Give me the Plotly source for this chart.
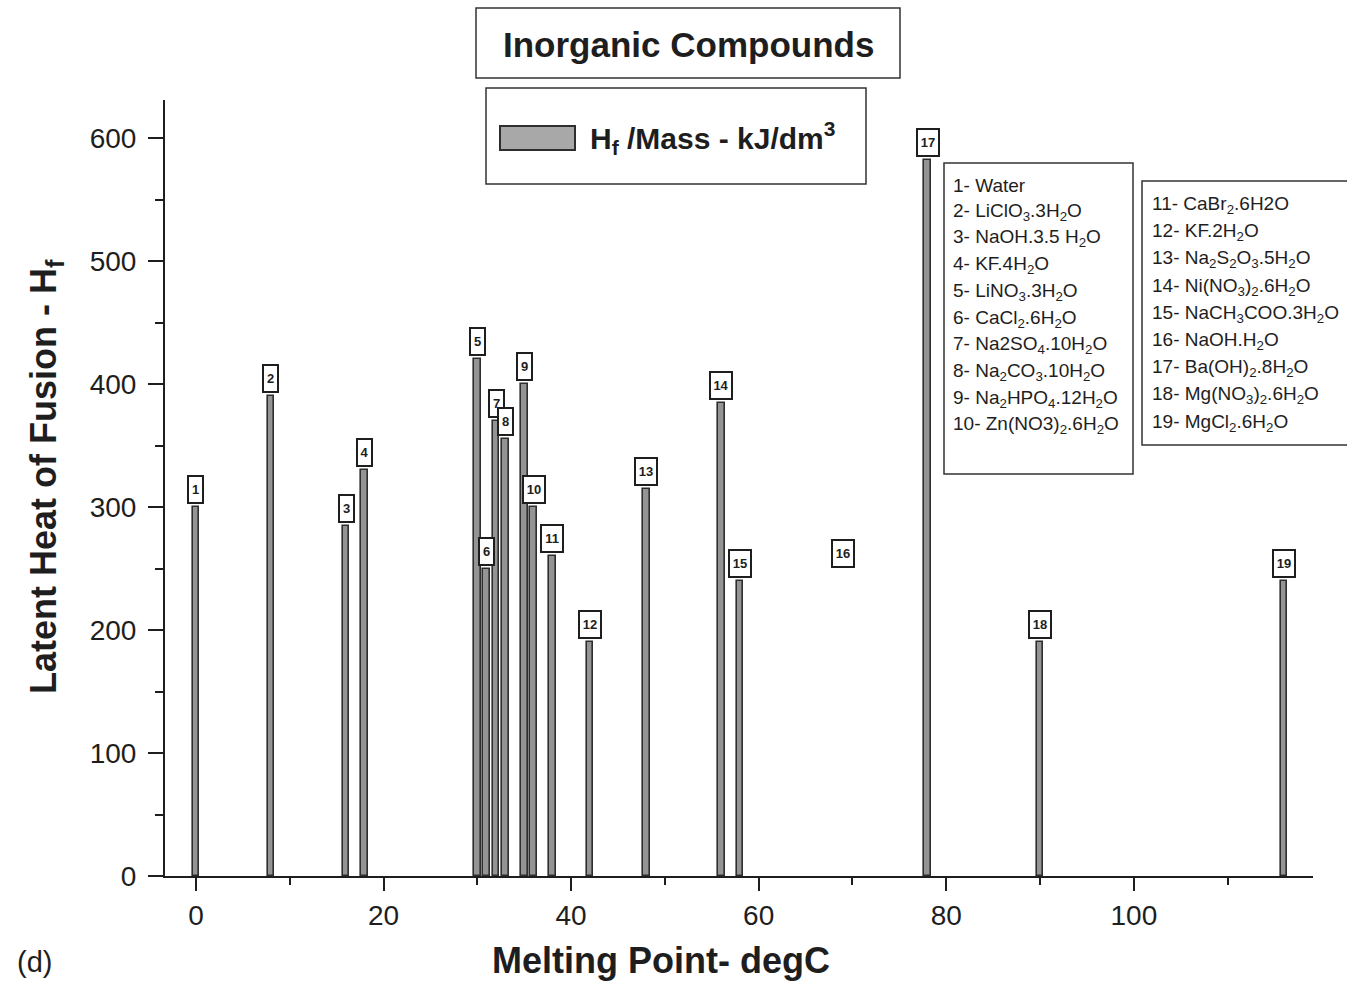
import plotly.graph_objects as go

# Phase-change materials: melting point (degC) and latent heat of fusion per volume
compound_ids = list(range(1, 20))
melting_point = [0, 8, 16, 18, 30, 31, 32, 33, 35, 36, 38, 42, 48, 56, 58, 69, 78, 90, 116]
latent_heat = [300, 390, 285, 330, 420, 250, 370, 355, 400, 300,
               260, 190, 315, 385, 240, None, 582, 190, 240]
# compound 16 has no plotted value; its tag is placed at this level
UNPLOTTED_TAG_LEVEL = 248

compound_names = [
    "Water",
    "LiClO<sub>3</sub>.3H<sub>2</sub>O",
    "NaOH.3.5 H<sub>2</sub>O",
    "KF.4H<sub>2</sub>O",
    "LiNO<sub>3</sub>.3H<sub>2</sub>O",
    "CaCl<sub>2</sub>.6H<sub>2</sub>O",
    "Na2SO<sub>4</sub>.10H<sub>2</sub>O",
    "Na<sub>2</sub>CO<sub>3</sub>.10H<sub>2</sub>O",
    "Na<sub>2</sub>HPO<sub>4</sub>.12H<sub>2</sub>O",
    "Zn(NO3)<sub>2</sub>.6H<sub>2</sub>O",
    "CaBr<sub>2</sub>.6H2O",
    "KF.2H<sub>2</sub>O",
    "Na<sub>2</sub>S<sub>2</sub>O<sub>3</sub>.5H<sub>2</sub>O",
    "Ni(NO<sub>3</sub>)<sub>2</sub>.6H<sub>2</sub>O",
    "NaCH<sub>3</sub>COO.3H<sub>2</sub>O",
    "NaOH.H<sub>2</sub>O",
    "Ba(OH)<sub>2</sub>.8H<sub>2</sub>O",
    "Mg(NO<sub>3</sub>)<sub>2</sub>.6H<sub>2</sub>O",
    "MgCl<sub>2</sub>.6H<sub>2</sub>O",
]

x_ticks = [0, 20, 40, 60, 80, 100]
y_ticks = [0, 100, 200, 300, 400, 500, 600]

FONT = "Liberation Sans, Arial, Helvetica, sans-serif"
INK = "#1e1e1e"

W, H = 1347, 982
L, R, T, B = 165, 1313, 100, 876  # plot area in pixels


def px(xp):
    return (xp - L) / (R - L)


def py(yp):
    return (B - yp) / (B - T)


plotted_x = [m for m, v in zip(melting_point, latent_heat) if v is not None]
plotted_y = [v for v in latent_heat if v is not None]

fig = go.Figure()
fig.add_trace(go.Bar(
    x=plotted_x,
    y=plotted_y,
    width=0.72,
    marker=dict(color="#949494", line=dict(color="#2e2e2e", width=1.6)),
    showlegend=False,
    hoverinfo="x+y",
))

annotations = []
shapes = []

# numbered tags above each bar
for cid, m, v in zip(compound_ids, melting_point, latent_heat):
    level = v if v is not None else UNPLOTTED_TAG_LEVEL
    annotations.append(dict(
        x=m, y=level, xref="x", yref="y",
        text=f"<b>{cid}</b>", showarrow=False,
        xanchor="center", yanchor="bottom", yshift=3,
        font=dict(family=FONT, size=13, color=INK),
        bgcolor="white", bordercolor=INK, borderwidth=2, borderpad=1,
        width=11 if cid < 10 else 18, height=23,
    ))

# title box
shapes.append(dict(type="rect", xref="paper", yref="paper",
                   x0=px(476), x1=px(900), y0=py(78), y1=py(8),
                   line=dict(color="#333333", width=1.5), fillcolor="white"))
annotations.append(dict(x=px(688), y=py(44), xref="paper", yref="paper",
                        text="<b>Inorganic Compounds</b>", showarrow=False,
                        xanchor="center", yanchor="middle",
                        font=dict(family=FONT, size=35, color=INK)))

# series key box
shapes.append(dict(type="rect", xref="paper", yref="paper",
                   x0=px(486), x1=px(866), y0=py(184), y1=py(88),
                   line=dict(color="#333333", width=1.5), fillcolor="white"))
shapes.append(dict(type="rect", xref="paper", yref="paper",
                   x0=px(500), x1=px(575), y0=py(150), y1=py(126),
                   line=dict(color="#2e2e2e", width=2), fillcolor="#a8a8a8"))
annotations.append(dict(x=px(588), y=py(138), xref="paper", yref="paper",
                        text="<b>H<sub>f</sub> /Mass - kJ/dm<sup>3</sup></b>",
                        showarrow=False, xanchor="left", yanchor="middle",
                        font=dict(family=FONT, size=30, color=INK)))

# compound name lists
lists = [
    dict(box=(944, 1133, 163, 474), x0=951, y0=185, step=26.7, ids=range(0, 10)),
    dict(box=(1142, 1352, 181, 445), x0=1150, y0=205, step=27.2, ids=range(10, 19)),
]
for lst in lists:
    bx0, bx1, by0, by1 = lst["box"]
    shapes.append(dict(type="rect", xref="paper", yref="paper",
                       x0=px(bx0), x1=px(bx1), y0=py(by1), y1=py(by0),
                       line=dict(color="#333333", width=1.5), fillcolor="white"))
    for k, i in enumerate(lst["ids"]):
        annotations.append(dict(
            x=px(lst["x0"]), y=py(lst["y0"] + k * lst["step"]),
            xref="paper", yref="paper",
            text=f"{compound_ids[i]}- {compound_names[i]}", showarrow=False,
            xanchor="left", yanchor="middle",
            font=dict(family=FONT, size=19, color=INK)))

# axis titles and panel tag
annotations.append(dict(x=px(661), y=py(960), xref="paper", yref="paper",
                        text="<b>Melting Point- degC</b>", showarrow=False,
                        xanchor="center", yanchor="middle",
                        font=dict(family=FONT, size=36, color=INK)))
annotations.append(dict(x=px(46), y=py(477), xref="paper", yref="paper",
                        text="<b>Latent Heat of Fusion - H<sub>f</sub></b>",
                        showarrow=False, textangle=-90,
                        xanchor="center", yanchor="middle",
                        font=dict(family=FONT, size=36, color=INK)))
annotations.append(dict(x=px(34), y=py(962), xref="paper", yref="paper",
                        text="(d)", showarrow=False,
                        xanchor="center", yanchor="middle",
                        font=dict(family=FONT, size=29, color=INK)))

fig.update_layout(
    width=W, height=H,
    margin=dict(l=L, r=W - R, t=T, b=H - B, pad=0),
    paper_bgcolor="white", plot_bgcolor="white",
    bargap=0,
    shapes=shapes,
    annotations=annotations,
    xaxis=dict(
        range=[-3.3, 119.1], tickvals=x_ticks, ticktext=[str(t) for t in x_ticks],
        showgrid=False, zeroline=False,
        showline=True, linecolor=INK, linewidth=2,
        ticks="outside", ticklen=13, tickwidth=2, tickcolor=INK,
        minor=dict(dtick=10, tick0=0, ticks="outside", ticklen=7, tickwidth=2, tickcolor=INK),
        tickfont=dict(family=FONT, size=28, color=INK),
        ticklabelstandoff=0,
    ),
    yaxis=dict(
        range=[0, 631], tickvals=y_ticks, ticktext=[str(t) for t in y_ticks],
        showgrid=False, zeroline=False,
        showline=True, linecolor=INK, linewidth=2,
        ticks="outside", ticklen=15, tickwidth=2, tickcolor=INK,
        minor=dict(dtick=50, tick0=0, ticks="outside", ticklen=8, tickwidth=2, tickcolor=INK),
        tickfont=dict(family=FONT, size=28, color=INK),
        ticklabelstandoff=6,
    ),
)

fig.write_html("out.html")
